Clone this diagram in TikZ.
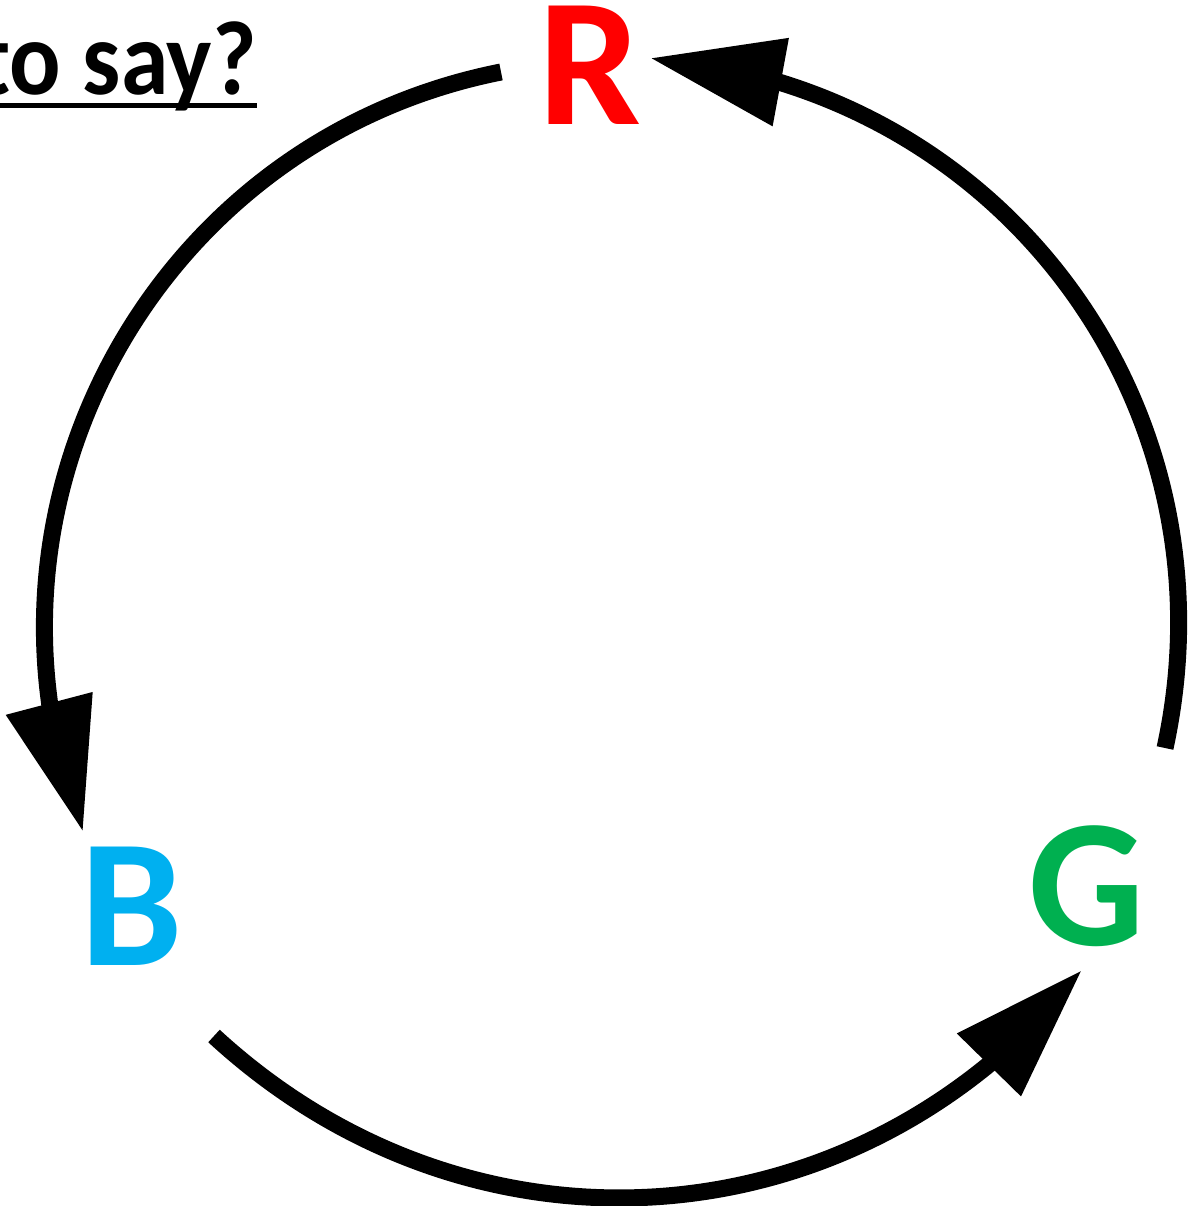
\documentclass[tikz,border=0pt]{standalone}
\usepackage{fontspec}
\setmainfont{Carlito}
\usetikzlibrary{arrows.meta, bending}
\definecolor{rouge}{RGB}{255,0,0}
\definecolor{bleu}{RGB}{0,176,240}
\definecolor{vert}{RGB}{0,176,80}

\begin{document}
\begin{tikzpicture}[x=0.02cm, y=0.02cm,
		lettre/.style={anchor=base, inner sep=0pt, font=\fontsize{104}{104}\selectfont\bfseries},
		fleche/.style={line width=0.34cm, looseness=1.04, -{Triangle[length=2.66cm, width=1.7cm, flex]}}]
				\useasboundingbox (0,0) rectangle (1197,-1206);
				% titre souligne
				\node[anchor=base east, inner sep=0pt, xscale=0.91, transform shape, font=\fontsize{60}{60}\selectfont\bfseries] (titre) at (257,-95) {to say?};
				\draw[line width=0.1cm] ([yshift=-0.22cm]titre.base west) -- ([yshift=-0.22cm]titre.base east);
				% dessin des lettres
				\node[lettre, text=rouge] (R) at (590,-125) {R};
				\node[lettre, text=bleu] (B) at (132,-965) {B};
				\node[lettre, text=vert] (G) at (1087,-945) {G};
				% bouts des arcs
				\coordinate (r1) at (501,-72);
				\coordinate (r2) at (650,-58);
				\coordinate (b1) at (83,-832);
				\coordinate (b2) at (214,-1036);
				\coordinate (g1) at (1082,-970);
				\coordinate (g2) at (1165,-748);
				% arcs
				\draw[fleche] (r1) to[bend right=50] (b1);
				\draw[fleche] (b2) to[bend right=47] (g1);
				\draw[fleche] (g2) to[bend right=49] (r2);
		\end{tikzpicture}
\end{document}
